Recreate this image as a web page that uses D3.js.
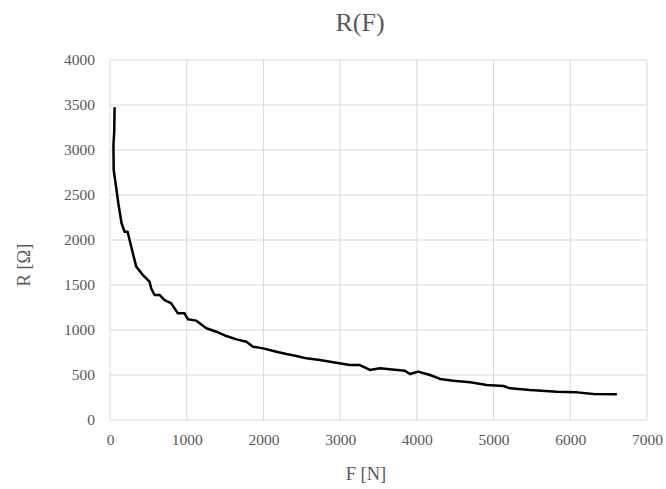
<!DOCTYPE html>
<html lang="en">
<head>
<meta charset="UTF-8">
<title>R(F)</title>
<script src="https://d3js.org/d3.v7.min.js"></script>
<style>
  body { margin: 0; background: #fff; }
  svg text { font-family: "Liberation Serif", "DejaVu Serif", serif; fill: #595959; }
</style>
</head>
<body>
<div id="chart"></div>
<script>
// data
const forceN = [60, 55, 45, 48, 85, 110, 150, 190, 230, 255, 298, 342, 428, 516, 537, 581, 646, 711, 799, 885, 972, 1016, 1125, 1256, 1386, 1517, 1648, 1778, 1864, 1995, 2170, 2300, 2431, 2561, 2735, 2909, 3127, 3257, 3388, 3518, 3845, 3910, 4018, 4171, 4302, 4475, 4695, 4911, 5128, 5215, 5476, 5825, 6086, 6303, 6608]
const resistance = [3474, 3204, 3055, 2778, 2555, 2400, 2189, 2092, 2092, 2000, 1852, 1704, 1611, 1537, 1463, 1389, 1389, 1333, 1296, 1185, 1185, 1119, 1104, 1019, 981, 933, 896, 870, 815, 796, 759, 733, 711, 685, 667, 641, 611, 611, 556, 574, 548, 511, 537, 500, 456, 437, 419, 389, 378, 352, 333, 315, 307, 289, 285]
const xTicks = [0, 1000, 2000, 3000, 4000, 5000, 6000, 7000]
const yTicks = [0, 500, 1000, 1500, 2000, 2500, 3000, 3500, 4000]

const width = 666, height = 489
const margin = {top: 60, right: 19, bottom: 69, left: 110}
const innerW = width - margin.left - margin.right
const innerH = height - margin.top - margin.bottom

const svg = d3.select("#chart").append("svg")
    .attr("width", width)
    .attr("height", height)

const bounds = svg.append("g")
    .attr("transform", `translate(${margin.left},${margin.top})`)

const xScale = d3.scaleLinear().domain([0, 7000]).range([0, innerW])
const yScale = d3.scaleLinear().domain([0, 4000]).range([innerH, 0])

// grid
bounds.selectAll(".vgrid").data(xTicks).enter().append("line")
    .attr("x1", d => xScale(d)).attr("x2", d => xScale(d))
    .attr("y1", 0).attr("y2", innerH)
    .attr("stroke", "#d9d9d9").attr("stroke-width", 1)
bounds.selectAll(".hgrid").data(yTicks).enter().append("line")
    .attr("x1", 0).attr("x2", innerW)
    .attr("y1", d => yScale(d)).attr("y2", d => yScale(d))
    .attr("stroke", "#d9d9d9").attr("stroke-width", 1)

// axes (labels only)
const xAxis = bounds.append("g")
    .attr("transform", `translate(0,${innerH})`)
    .call(d3.axisBottom(xScale).tickValues(xTicks).tickSize(0).tickPadding(14).tickFormat(d3.format("d")))
const yAxis = bounds.append("g")
    .call(d3.axisLeft(yScale).tickValues(yTicks).tickSize(0).tickPadding(15).tickFormat(d3.format("d")))
xAxis.select(".domain").remove()
yAxis.select(".domain").remove()
bounds.selectAll(".tick text")
    .attr("font-size", 15.5)
    .style("font-family", "Liberation Serif, serif")
    .attr("fill", "#595959")

// line
const data = forceN.map((f, i) => ({f: f, r: resistance[i]}))
const line = d3.line()
    .x(d => xScale(d.f))
    .y(d => yScale(d.r))
bounds.append("path")
    .datum(data)
    .attr("fill", "none")
    .attr("stroke", "#000")
    .attr("stroke-width", 2.5)
    .attr("stroke-linejoin", "round")
    .attr("d", line)

// titles
svg.append("text")
    .attr("x", 360).attr("y", 31)
    .attr("text-anchor", "middle")
    .attr("font-size", 26)
    .text("R(F)")
svg.append("text")
    .attr("x", 366).attr("y", 480)
    .attr("text-anchor", "middle")
    .attr("font-size", 18.5)
    .text("F [N]")
svg.append("text")
    .attr("transform", "translate(30,265) rotate(-90)")
    .attr("text-anchor", "middle")
    .attr("font-size", 18.5)
    .text("R [Ω]")
</script>
</body>
</html>
